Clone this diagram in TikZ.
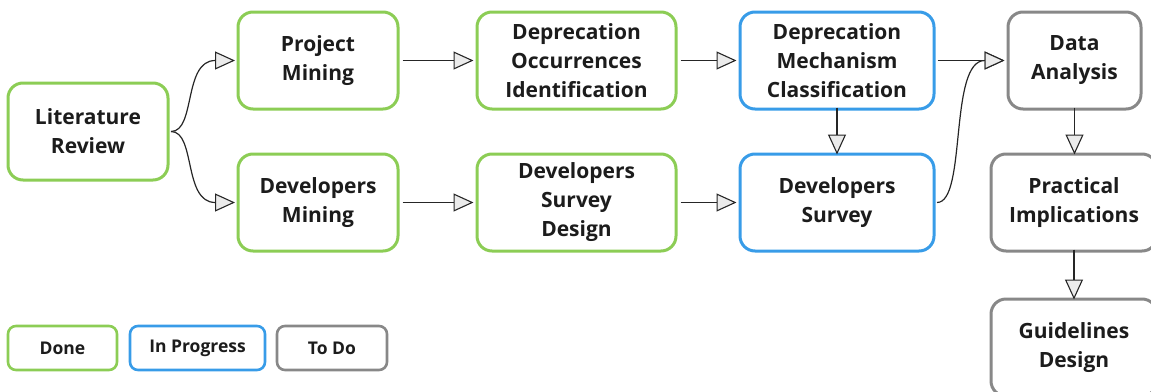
\documentclass[tikz,border=0pt]{standalone}
\usepackage{fontspec}
\setmainfont{Open Sans}[BoldFont={Open Sans Bold}]
\usetikzlibrary{arrows.meta}

\definecolor{donegreen}{HTML}{8CCD55}
\definecolor{progblue}{HTML}{389CE8}
\definecolor{todogray}{HTML}{888888}
\definecolor{inkdark}{HTML}{1C1C1C}

\tikzset{
  stage/.style={draw, rounded corners=15pt, line width=3pt, align=center,
    inner sep=0pt, text=inkdark, fill=white,
    font=\fontsize{21}{29}\selectfont\bfseries, minimum height=97pt},
  done/.style={stage, draw=donegreen},
  prog/.style={stage, draw=progblue},
  todo/.style={stage, draw=todogray},
  keybox/.style={draw, rounded corners=8pt, line width=2.6pt, inner sep=0pt,
    text=inkdark, font=\fontsize{17.5}{21}\selectfont\bfseries, minimum height=44pt},
  flow/.style={line width=1.2pt, draw=black!85,
    -{Triangle[length=20pt, width=18pt, line width=1.1pt, fill=black!8]}}
}

\begin{document}
\begin{tikzpicture}[x=1pt, y=-1pt]
  \path[use as bounding box, clip] (0,0) rectangle (1151,391);

  % workflow stages
  \node[done, minimum width=160pt] (lit) at (88,131.5) {Literature\\Review};
  \node[done, minimum width=160pt] (pm)  at (318,60.5) {Project\\Mining};
  \node[done, minimum width=160pt] (dm)  at (318,202.5) {Developers\\Mining};
  \node[done, minimum width=199pt] (doi) at (576.5,60.5) {Deprecation\\Occurrences\\Identification};
  \node[done, minimum width=199pt] (dsd) at (576.5,202.5) {Developers\\Survey\\Design};
  \node[prog, minimum width=194pt] (dmc) at (837,60.5) {Deprecation\\Mechanism\\Classification};
  \node[prog, minimum width=194pt] (ds)  at (837,202.5) {Developers\\Survey};
  \node[todo, minimum width=133pt] (da)  at (1074.5,60.5) {Data\\Analysis};
  \node[todo, minimum width=166pt] (pi)  at (1074,202.5) {Practical\\Implications};
  \node[todo, minimum width=166pt] (gd)  at (1074,347.5) {Guidelines\\Design};

  % legend
  \node[keybox, draw=donegreen, minimum width=109pt] (kdone) at (62.5,348) {Done};
  \node[keybox, draw=progblue, minimum width=135pt] (kprog) at (197.5,348) {In Progress};
  \node[keybox, draw=todogray, minimum width=110pt] (ktodo) at (332,348) {To Do};

  % connectors
  \draw[flow] ([xshift=1.5pt]lit.east) .. controls +(25,0) and +(-52,0) .. ([xshift=-1.5pt]pm.west);
  \draw[flow] ([xshift=1.5pt]lit.east) .. controls +(25,0) and +(-52,0) .. ([xshift=-1.5pt]dm.west);
  \draw[flow] ([xshift=3pt]pm.east) -- ([xshift=-2pt]doi.west);
  \draw[flow] ([xshift=3pt]dm.east) -- ([xshift=-2pt]dsd.west);
  \draw[flow] ([xshift=3pt]doi.east) -- ([xshift=-2pt]dmc.west);
  \draw[flow] ([xshift=3pt]dsd.east) -- ([xshift=-2pt]ds.west);
  \draw[flow] ([xshift=2pt]dmc.east) -- ([xshift=-2pt]da.west);
  \draw[flow] ([xshift=1.5pt]ds.east) .. controls +(30,0) and +(-56,0) .. ([xshift=-2pt]da.west);
  \draw[flow] ([yshift=3pt]dmc.south) -- ([yshift=-2pt]ds.north);
  \draw[flow] ([yshift=3pt]da.south) -- ([yshift=-2pt]da.south |- pi.north);
  \draw[flow] ([yshift=3pt]pi.south) -- ([yshift=-2pt]gd.north);
\end{tikzpicture}
\end{document}
